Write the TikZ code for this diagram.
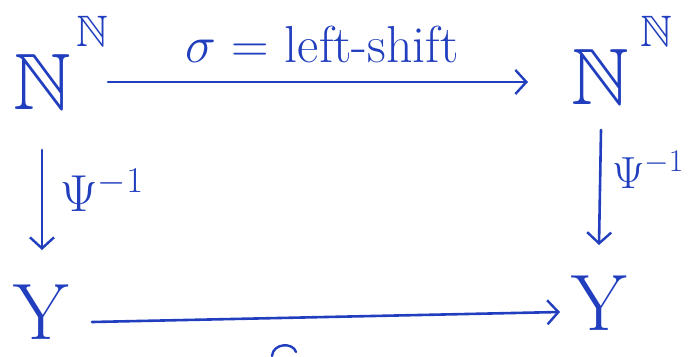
\RequirePackage{fix-cm}
\documentclass[tikz,border=0pt]{standalone}
\usepackage{amssymb}
\usetikzlibrary{arrows.meta}
\definecolor{ink}{RGB}{32,62,190}
\begin{document}
\begin{tikzpicture}[x=1pt,y=-1pt,
  every node/.style={text=ink, inner sep=0pt},
  arr/.style={draw=ink, line width=2.6pt, line cap=round,
    -{Straight Barb[length=11pt,width=24pt,line width=2.4pt]}},
  bigN/.style={font=\fontsize{80}{80}\selectfont},
  supN/.style={font=\fontsize{44}{44}\selectfont},
  lab/.style={font=\fontsize{52}{52}\selectfont},
  psi/.style={font=\fontsize{52}{52}\selectfont},
  psir/.style={font=\fontsize{45}{45}\selectfont},
  bigY/.style={font=\fontsize{80}{80}\selectfont}]
\useasboundingbox (0,0) rectangle (690,356);
% objects
\node[bigN] (NL) at (42,82) {$\mathbb{N}$};
\node[supN] (NLs) at (92,31) {$\mathbb{N}$};
\node[bigN] (NR) at (600,77) {$\mathbb{N}$};
\node[supN] (NRs) at (656,31) {$\mathbb{N}$};
\node[bigY] (YL) at (42,312) {$\mathrm{Y}$};
\node[bigY] (YR) at (600,303) {$\mathrm{Y}$};
% labels
\node[lab] (sig) at (322,44) {$\sigma$ = left-shift};
\node[psi] (PsiL) at (102,190) {$\Psi^{-1}$};
\node[psir] (PsiR) at (648,170) {$\Psi^{-1}$};
% arrow ends
\coordinate (t1) at (108,82);
\coordinate (t2) at (528,82);
\coordinate (l1) at (42,150);
\coordinate (l2) at (42,250);
\coordinate (r1) at (601,130);
\coordinate (r2) at (599,245);
\coordinate (b1) at (92,322);
\coordinate (b2) at (560,312);
\draw[arr] (t1) -- (t2);
\draw[arr] (l1) -- (l2);
\draw[arr] (r1) -- (r2);
\draw[arr] (b1) -- (b2);
% cut-off glyph fragment at bottom edge
\draw[ink, line width=2.4pt, line cap=round] (272,356) .. controls (273,343) and (293,342) .. (296,352);
\end{tikzpicture}
\end{document}
